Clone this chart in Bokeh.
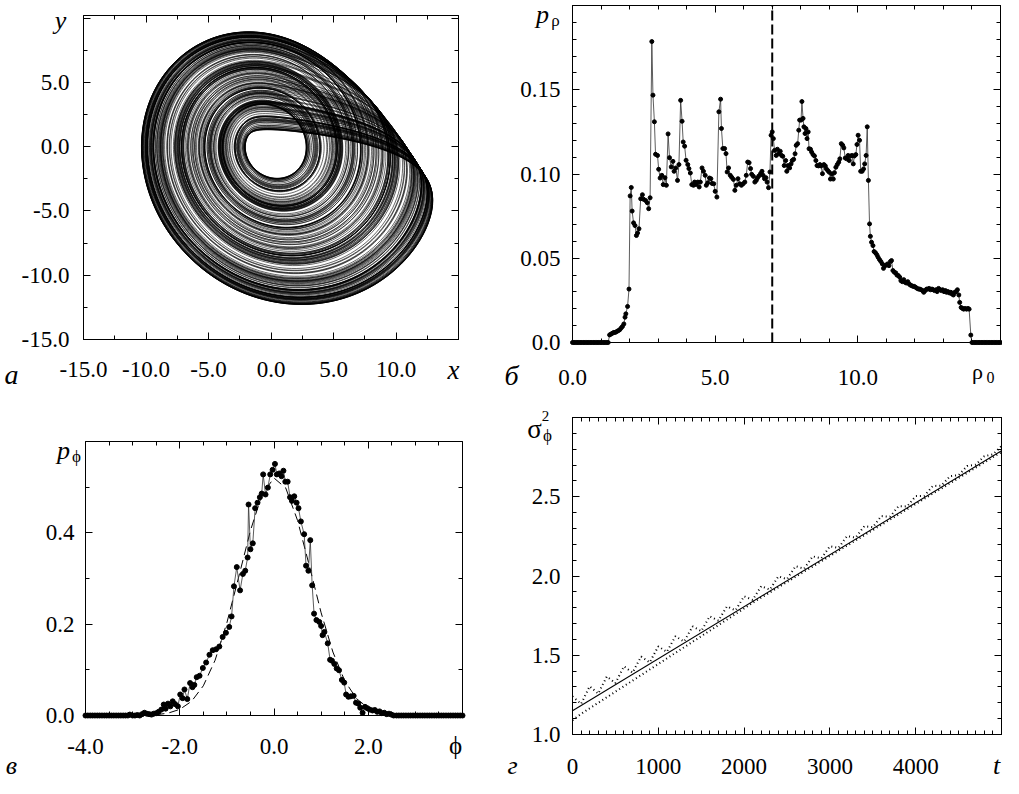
import numpy as np
from bokeh.plotting import figure
from bokeh.layouts import row, column
from bokeh.models import (LinearAxis, SingleIntervalTicker, CustomJSTickFormatter,
                          Label, Range1d)
from bokeh.embed import file_html
from bokeh.resources import INLINE

# ---------------- DATA ----------------
# (а) attractor: Rossler system parameters (trajectory is the system's solution)
ROSSLER_A, ROSSLER_B, ROSSLER_C = 0.2, 0.2, 6.5
T_TRANSIENT, T_TOTAL, DT = 200.0, 1500.0, 0.01

# (б) amplitude distribution p_rho(rho0)
rho0_pts = [0.00, 0.05, 0.10, 0.15, 0.20, 0.25, 0.30, 0.35, 0.40, 0.45, 0.50, 0.55, 0.60, 0.65,
            0.70, 0.75, 0.80, 0.85, 0.90, 0.95, 1.00, 1.05, 1.10, 1.15, 1.20, 1.25,
            1.30, 1.35, 1.40, 1.45, 1.50, 1.55, 1.60, 1.65, 1.70, 1.75, 1.80, 1.84, 1.87, 1.93,
            1.98, 2.02, 2.06, 2.09, 2.14, 2.19, 2.24, 2.28, 2.33, 2.39, 2.45, 2.49, 2.56, 2.62,
            2.67, 2.72, 2.78, 2.82, 2.87, 2.91, 2.98, 3.02, 3.07, 3.13, 3.18, 3.24, 3.29, 3.35,
            3.40, 3.46, 3.52, 3.56, 3.62, 3.68, 3.73, 3.79, 3.84, 3.88, 3.93, 3.98, 4.04, 4.08,
            4.13, 4.18, 4.24, 4.28, 4.33, 4.39, 4.44, 4.48, 4.54, 4.59, 4.65, 4.69, 4.74, 4.80,
            4.85, 4.89, 4.95, 5.00, 5.06, 5.13, 5.19, 5.22, 5.27, 5.33, 5.38, 5.42, 5.47, 5.53,
            5.58, 5.64, 5.69, 5.74, 5.80, 5.86, 5.92, 5.98, 6.04, 6.09, 6.14, 6.19, 6.24, 6.28,
            6.34, 6.39, 6.44, 6.48, 6.53, 6.59, 6.64, 6.68, 6.73, 6.78, 6.82, 6.87, 6.92, 6.96,
            7.00, 7.04, 7.08, 7.14, 7.18, 7.23, 7.28, 7.33, 7.37, 7.42, 7.47, 7.51, 7.56, 7.61,
            7.66, 7.70, 7.75, 7.80, 7.84, 7.89, 7.93, 7.96, 8.01, 8.04, 8.08, 8.11, 8.15, 8.18,
            8.22, 8.26, 8.29, 8.34, 8.38, 8.43, 8.48, 8.53, 8.57, 8.62, 8.67, 8.71, 8.76, 8.81,
            8.86, 8.90, 8.95, 9.00, 9.04, 9.09, 9.14, 9.18, 9.23, 9.28, 9.33, 9.37, 9.42, 9.47,
            9.51, 9.56, 9.61, 9.66, 9.70, 9.75, 9.80, 9.84, 9.88, 9.93, 9.97, 10.01, 10.06, 10.10,
            10.15, 10.20, 10.24, 10.29, 10.33, 10.37, 10.41, 10.44, 10.48, 10.53, 10.57, 10.62,
            10.67, 10.71, 10.76, 10.81, 10.86, 10.90, 10.95, 11.00, 11.04, 11.09, 11.14, 11.18,
            11.23, 11.28, 11.33, 11.37, 11.42, 11.47, 11.51, 11.56, 11.61, 11.66, 11.70, 11.75,
            11.80, 11.84, 11.89, 11.94, 11.98, 12.03, 12.08, 12.13, 12.17, 12.22, 12.27, 12.31,
            12.36, 12.41, 12.46, 12.50, 12.55, 12.60, 12.64, 12.69, 12.74, 12.78, 12.83, 12.88,
            12.93, 12.97, 13.02, 13.07, 13.11, 13.16, 13.21, 13.26, 13.30, 13.35, 13.40, 13.44,
            13.49, 13.54, 13.57, 13.62, 13.67, 13.71, 13.76, 13.81, 13.86, 13.90, 13.96, 14.00,
            14.05, 14.10, 14.15, 14.20, 14.25, 14.30, 14.35, 14.40, 14.45, 14.50, 14.55, 14.60,
            14.65, 14.70, 14.75, 14.80, 14.85, 14.90, 14.95, 15.00]
p_rho_pts = [0, 0, 0, 0, 0, 0, 0, 0, 0, 0, 0, 0, 0, 0,
             0, 0, 0, 0, 0, 0, 0, 0, 0, 0, 0, 0,
             0.0045, 0.005, 0.0055, 0.006, 0.006, 0.0065, 0.007, 0.0075, 0.0085, 0.0095, 0.011,
             0.015, 0.017, 0.0214,
             0.0317, 0.087, 0.092, 0.078, 0.071, 0.0694, 0.0635, 0.065, 0.0675, 0.0853, 0.0877,
             0.085, 0.0843, 0.083,
             0.0794, 0.0859, 0.1786, 0.1468, 0.131, 0.1117, 0.111, 0.1028, 0.0976, 0.0992, 0.0937,
             0.0978, 0.0933, 0.1238,
             0.1097, 0.1042, 0.1075, 0.1016, 0.1036, 0.0962, 0.1056, 0.1437, 0.1313, 0.119,
             0.1165, 0.1081, 0.1056, 0.1032,
             0.1006, 0.0937, 0.0933, 0.0952, 0.0938, 0.0952, 0.0923, 0.0952, 0.1036, 0.1016,
             0.0992, 0.0933, 0.0948, 0.0976,
             0.0972, 0.0944, 0.0942, 0.0897, 0.0863, 0.1369, 0.1444, 0.127, 0.1151, 0.1151,
             0.1121, 0.1012, 0.1036, 0.0992,
             0.098, 0.0968, 0.0903, 0.0933, 0.0972, 0.0942, 0.0933, 0.0942, 0.0952, 0.0992,
             0.1071, 0.1067, 0.1032, 0.0998,
             0.0986, 0.0952, 0.0962, 0.0976, 0.0988, 0.1002, 0.1016, 0.0992, 0.0972, 0.0978,
             0.0952, 0.0919, 0.1012, 0.123,
             0.125, 0.121, 0.114, 0.111, 0.1147, 0.112, 0.1135, 0.111, 0.1105, 0.105, 0.108,
             0.1016, 0.105, 0.1036,
             0.106, 0.108, 0.1087, 0.112, 0.117, 0.118, 0.126, 0.132, 0.132, 0.143, 0.133, 0.128,
             0.124, 0.127,
             0.121, 0.125, 0.115, 0.1147, 0.113, 0.1115, 0.1107, 0.108, 0.105, 0.1048, 0.1056,
             0.1048, 0.1002, 0.1056,
             0.1048, 0.103, 0.102, 0.101, 0.097, 0.100, 0.097, 0.1008, 0.104, 0.1056, 0.107,
             0.109, 0.118, 0.117,
             0.1155, 0.1095, 0.109, 0.111, 0.108, 0.1107, 0.111, 0.106, 0.1107, 0.1115, 0.1175,
             0.123, 0.120, 0.1016,
             0.1016, 0.103, 0.106, 0.111, 0.128, 0.0962, 0.0704, 0.063, 0.0595, 0.0575, 0.054,
             0.0532,
             0.052, 0.0506, 0.0492, 0.048, 0.0466, 0.044, 0.0456, 0.046, 0.0466, 0.0456, 0.048,
             0.0486,
             0.0427, 0.0417, 0.0413, 0.040, 0.0397, 0.0387, 0.0367, 0.0361, 0.0373, 0.0357,
             0.0353, 0.0361,
             0.0347, 0.0341, 0.0337, 0.0333, 0.0333, 0.0327, 0.0321, 0.0317, 0.0317, 0.0313,
             0.0308, 0.0298,
             0.0308, 0.0317, 0.0317, 0.0321, 0.0313, 0.0317, 0.0313, 0.0308, 0.0313, 0.0302,
             0.0321, 0.0313,
             0.0308, 0.0313, 0.0302, 0.0308, 0.0298, 0.0302, 0.0294, 0.0298, 0.0288, 0.0282,
             0.0298, 0.0302,
             0.0313, 0.0282, 0.0238, 0.0208, 0.0202, 0.0198, 0.0202, 0.0198, 0.0202, 0.0198,
             0.0044, 0.0,
             0, 0, 0, 0, 0, 0, 0, 0, 0, 0, 0, 0,
             0, 0, 0, 0, 0, 0, 0, 0]
rho_mark = 7.0

# (в) phase distribution p_phi(phi)
phi_pts = [-4.00, -3.95, -3.90, -3.85, -3.80, -3.75, -3.70, -3.65, -3.60, -3.55, -3.50, -3.45,
           -3.40, -3.35, -3.30, -3.25, -3.20, -3.15, -3.10, -3.06, -3.00, -2.95, -2.90, -2.85,
           -2.80, -2.75, -2.70, -2.65, -2.60, -2.55, -2.50, -2.45, -2.39, -2.34, -2.30, -2.25,
           -2.20, -2.15, -2.10, -2.04, -1.99, -1.94, -1.90, -1.84, -1.78, -1.73, -1.69, -1.64,
           -1.58, -1.51, -1.44, -1.37, -1.30, -1.23, -1.16, -1.09, -1.02, -0.95, -0.90, -0.85,
           -0.79, -0.72, -0.66, -0.61, -0.56, -0.54, -0.50, -0.45, -0.40, -0.35, -0.30, -0.26,
           -0.23, -0.18, -0.13, -0.08, -0.03, 0.02, 0.06, 0.11, 0.16, 0.20, 0.24, 0.29,
           0.34, 0.38, 0.43, 0.48, 0.52, 0.57, 0.64, 0.68, 0.73, 0.77, 0.81, 0.85,
           0.90, 0.96, 1.00, 1.03, 1.07, 1.14, 1.19, 1.23, 1.28, 1.33, 1.38, 1.44,
           1.49, 1.53, 1.58, 1.63, 1.69, 1.74, 1.79, 1.83, 1.88, 1.93, 1.98, 2.03,
           2.09, 2.14, 2.19, 2.24, 2.29, 2.34, 2.39, 2.44, 2.49, 2.54, 2.60, 2.65,
           2.70, 2.75, 2.80, 2.85, 2.90, 2.95, 3.00, 3.05, 3.10, 3.15, 3.20, 3.25,
           3.30, 3.35, 3.40, 3.45, 3.50, 3.55, 3.60, 3.65, 3.70, 3.75, 3.80, 3.85,
           3.90, 3.95, 4.00]
p_phi_pts = [0, 0, 0, 0, 0, 0, 0, 0, 0, 0, 0, 0,
             0, 0, 0, 0, 0, 0, 0, 0.002, 0.0, 0.0, 0.001, 0.0,
             0.003, 0.006, 0.004, 0.003, 0.002, 0.004, 0.005, 0.008, 0.013, 0.024, 0.015, 0.026,
             0.020, 0.031, 0.025, 0.020, 0.046, 0.038, 0.057, 0.036, 0.071, 0.062, 0.067, 0.084,
             0.087, 0.104, 0.116, 0.133, 0.143, 0.145, 0.151, 0.172, 0.181, 0.194, 0.217, 0.283,
             0.325, 0.274, 0.310, 0.317, 0.346, 0.462, 0.364, 0.377, 0.454, 0.466, 0.478, 0.486,
             0.528, 0.484, 0.499, 0.528, 0.538, 0.551, 0.528, 0.530, 0.524, 0.536, 0.512, 0.512,
             0.478, 0.470, 0.480, 0.466, 0.454, 0.425, 0.397, 0.328, 0.317, 0.384, 0.285, 0.223,
             0.209, 0.205, 0.196, 0.176, 0.183, 0.158, 0.122, 0.120, 0.113, 0.103, 0.099, 0.078,
             0.072, 0.046, 0.041, 0.042, 0.043, 0.028, 0.026, 0.017, 0.006, 0.019, 0.016, 0.013,
             0.011, 0.012, 0.008, 0.009, 0.005, 0.006, 0.003, 0.004, 0.002, 0.0, 0.0, 0.0,
             0, 0, 0, 0, 0, 0, 0, 0, 0, 0, 0, 0,
             0, 0, 0, 0, 0, 0, 0, 0, 0, 0, 0, 0,
             0, 0, 0]
# dashed (Gaussian) curve
phi_gauss = [-4.0, -3.0, -2.75, -2.5, -2.25, -2.0, -1.75, -1.5, -1.25, -1.0, -0.75, -0.5,
             -0.25, 0.0, 0.25, 0.5, 0.75, 1.0, 1.25, 1.5, 1.75, 2.0, 2.25, 2.5, 2.75, 3.0, 4.0]
p_gauss = [0.0, 0.0, 0.0006, 0.0018, 0.0051, 0.0134, 0.031, 0.065, 0.121, 0.203, 0.303, 0.405,
           0.485, 0.52, 0.498, 0.427, 0.328, 0.225, 0.139, 0.076, 0.037, 0.0165, 0.0065, 0.0023,
           0.0007, 0.0, 0.0]

# (г) phase variance growth sigma_phi^2(t)
t_fit = [0, 5000]
s2_fit = [1.15, 2.79]
t_runs = [0, 100, 200, 300, 400, 500, 600, 700, 800, 900, 1000, 1100, 1200, 1300, 1400, 1500,
          1600, 1700, 1800, 1900, 2000, 2100, 2200, 2300, 2400, 2500, 2600, 2700, 2800, 2900,
          3000, 3100, 3200, 3300, 3400, 3500, 3600, 3700, 3800, 3900, 4000, 4100, 4200, 4300,
          4400, 4500, 4600, 4700, 4800, 4900, 5000]
s2_run_upper = [1.240, 1.193, 1.304, 1.258, 1.366, 1.324, 1.430, 1.390, 1.492, 1.455, 1.556,
                1.521, 1.620, 1.586, 1.682, 1.652, 1.746, 1.718, 1.808, 1.783, 1.872, 1.849,
                1.936, 1.914, 1.998, 1.980, 2.062, 2.046, 2.124, 2.111, 2.188, 2.177, 2.252,
                2.242, 2.314, 2.308, 2.378, 2.374, 2.440, 2.439, 2.504, 2.505, 2.568, 2.570,
                2.630, 2.636, 2.694, 2.702, 2.756, 2.767, 2.820]
s2_run_lower = [1.090, 1.130, 1.165, 1.200, 1.235, 1.270, 1.305, 1.340, 1.375, 1.410, 1.445,
                1.480, 1.515, 1.550, 1.585, 1.620, 1.655, 1.690, 1.725, 1.760, 1.795, 1.831,
                1.864, 1.896, 1.929, 1.962, 1.995, 2.028, 2.060, 2.093, 2.126, 2.159, 2.192,
                2.224, 2.257, 2.290, 2.323, 2.356, 2.388, 2.421, 2.454, 2.487, 2.520, 2.552,
                2.585, 2.618, 2.651, 2.684, 2.716, 2.749, 2.782]

# ---------------- attractor trajectory ----------------
def rossler_traj():
    a, b, c = ROSSLER_A, ROSSLER_B, ROSSLER_C
    x, y, z = 1.0, 1.0, 0.0
    h = DT
    n = int(T_TOTAL / h)
    n0 = int(T_TRANSIENT / h)
    xs, ys = [], []
    for i in range(n):
        k1x = -y - z; k1y = x + a * y; k1z = b + z * (x - c)
        x2 = x + 0.5 * h * k1x; y2 = y + 0.5 * h * k1y; z2 = z + 0.5 * h * k1z
        k2x = -y2 - z2; k2y = x2 + a * y2; k2z = b + z2 * (x2 - c)
        x3 = x + 0.5 * h * k2x; y3 = y + 0.5 * h * k2y; z3 = z + 0.5 * h * k2z
        k3x = -y3 - z3; k3y = x3 + a * y3; k3z = b + z3 * (x3 - c)
        x4 = x + h * k3x; y4 = y + h * k3y; z4 = z + h * k3z
        k4x = -y4 - z4; k4y = x4 + a * y4; k4z = b + z4 * (x4 - c)
        x += h / 6.0 * (k1x + 2 * k2x + 2 * k3x + k4x)
        y += h / 6.0 * (k1y + 2 * k2y + 2 * k3y + k4y)
        z += h / 6.0 * (k1z + 2 * k2z + 2 * k3z + k4z)
        if i >= n0 and i % 4 == 0:
            xs.append(x); ys.append(y)
    return xs, ys

# ---------------- helpers ----------------
FONT = "Liberation Serif"
TICK_FS = "23px"


class Panel:
    """A figure whose whole canvas is the frame; the boxed plot area sits inside it."""

    def __init__(self, fig_rect, box_rect, xr, yr):
        fl, ft, fw, fh = fig_rect
        bl, br, bt, bb = box_rect
        self.fl, self.ft = fl, ft
        self.xr, self.yr = xr, yr
        self.sx = (br - bl) / (xr[1] - xr[0])
        self.sy = (bb - bt) / (yr[1] - yr[0])
        self.x0 = xr[0] - (bl - fl) / self.sx
        x1 = xr[1] + (fl + fw - br) / self.sx
        self.y1 = yr[1] + (bt - ft) / self.sy
        y0 = yr[0] - (ft + fh - bb) / self.sy
        p = figure(width=fw, height=fh, x_range=Range1d(self.x0, x1),
                   y_range=Range1d(y0, self.y1), output_backend="svg",
                   toolbar_location=None, x_axis_type=None, y_axis_type=None,
                   min_border_left=0, min_border_right=0, min_border_top=0,
                   min_border_bottom=0)
        p.min_border = 0
        p.outline_line_color = None
        p.background_fill_color = "white"
        p.border_fill_color = "white"
        self.p = p

    def axes(self, xint, xminor, yint, yminor, xcode, ycode, xstand, ystand):
        xr, yr = self.xr, self.yr
        specs = [("below", xint, xminor, xcode, xstand, yr[0], xr),
                 ("above", xint, xminor, None, 0, yr[1], xr),
                 ("left", yint, yminor, ycode, ystand, xr[0], yr),
                 ("right", yint, yminor, None, 0, xr[1], yr)]
        for loc, iv, nm, code, stand, fixed, bnds in specs:
            ax = LinearAxis(ticker=SingleIntervalTicker(interval=iv, num_minor_ticks=nm),
                            fixed_location=fixed, bounds=bnds)
            ax.major_tick_in = 7
            ax.major_tick_out = 0
            ax.minor_tick_in = 4
            ax.minor_tick_out = 0
            ax.axis_line_color = "black"
            ax.axis_line_width = 1
            ax.major_tick_line_color = "black"
            ax.minor_tick_line_color = "black"
            if code is not None:
                ax.formatter = CustomJSTickFormatter(code=code)
                ax.major_label_text_font = FONT
                ax.major_label_text_font_size = TICK_FS
                ax.major_label_text_color = "black"
                ax.major_label_standoff = stand
            else:
                ax.major_label_text_color = None
            self.p.add_layout(ax, loc)

    def text(self, px, py, text, size, italic=False):
        """(px, py): page position of the text anchor (centre x, middle)."""
        x = self.x0 + (px - self.fl) / self.sx
        y = self.y1 - (py - self.ft) / self.sy
        self.p.add_layout(Label(x=x, y=y, text=text, text_font=FONT,
                                text_font_size=f"{size}px",
                                text_font_style="italic" if italic else "normal",
                                text_align="center", text_baseline="middle",
                                text_color="black"))

# ---------------- panel а ----------------
A = Panel((8, 8, 500, 392), (91, 466, 23, 347), (-15, 15), (-15, 10.2))
A.axes(5, 2, 5, 2,
       'return tick > 14.9 ? "" : tick.toFixed(1);',
       'return tick > 9.9 ? "" : tick.toFixed(1);', 22, 14)
ax_x, ax_y = rossler_traj()
A.p.line(ax_x, ax_y, line_color="black", line_width=0.6)
A.text(68, 28, "y", 26, True)
A.text(461, 377, "x", 27, True)
A.text(19, 382, "а", 28, True)

# ---------------- panel б ----------------
B = Panel((508, 8, 502, 392), (580, 1008, 13, 350), (0, 15), (0, 0.2))
B.axes(5, 5, 0.05, 5,
       'return tick > 14.9 ? "" : tick.toFixed(1);',
       'if (tick > 0.19) return ""; if (Math.abs(tick) < 1e-9) return "0.0"; return tick.toFixed(2);',
       27, 12)
B.p.line([rho_mark, rho_mark], [0.0, 0.2], line_color="black", line_width=2,
         line_dash="10 4")
B.p.line(rho0_pts, p_rho_pts, line_color="#333333", line_width=0.8)
B.p.scatter(rho0_pts, p_rho_pts, size=4, color="black")
B.text(550, 22, "p", 26, True)
B.text(563, 28, "ρ", 17)
B.text(985, 379, "ρ", 22)
B.text(998, 385, "0", 16)
B.text(519, 383, "б", 28, True)

# ---------------- panel в ----------------
C = Panel((8, 400, 500, 386), (93, 470, 449, 723), (-4, 4), (0, 0.6))
C.axes(2, 4, 0.2, 2,
       'return tick > 3.9 ? "" : tick.toFixed(1);',
       'return tick > 0.59 ? "" : tick.toFixed(1);', 23, 11)
C.p.line(phi_gauss, p_gauss, line_color="black", line_width=1, line_dash="9 5")
C.p.line(phi_pts, p_phi_pts, line_color="#333333", line_width=0.8)
C.p.scatter(phi_pts, p_phi_pts, size=5, color="black")
C.text(71, 458, "p", 26, True)
C.text(84, 464, "ϕ", 17)
C.text(463, 753, "ϕ", 25)
C.text(19, 773, "в", 26, True)

# ---------------- panel г ----------------
D = Panel((508, 400, 502, 386), (580, 1009, 425, 742), (0, 5000), (1.0, 3.0))
D.axes(1000, 10, 0.5, 5,
       'return tick > 4999 ? "" : tick.toFixed(0);',
       'return tick > 2.99 ? "" : tick.toFixed(1);', 24, 12)
D.p.line(t_fit, s2_fit, line_color="black", line_width=1.1)
D.p.line(t_runs, s2_run_upper, line_color="black", line_width=2, line_dash="1 3")
D.p.line(t_runs, s2_run_lower, line_color="black", line_width=2, line_dash="1 3")
D.text(542, 436, "σ", 27)
D.text(553, 423, "2", 15)
D.text(555, 443, "ϕ", 17)
D.text(1004, 773, "t", 26, True)
D.text(520, 773, "г", 26, True)

layout = column(row(A.p, B.p), row(C.p, D.p))
open("out.html", "w").write(file_html(layout, INLINE))
